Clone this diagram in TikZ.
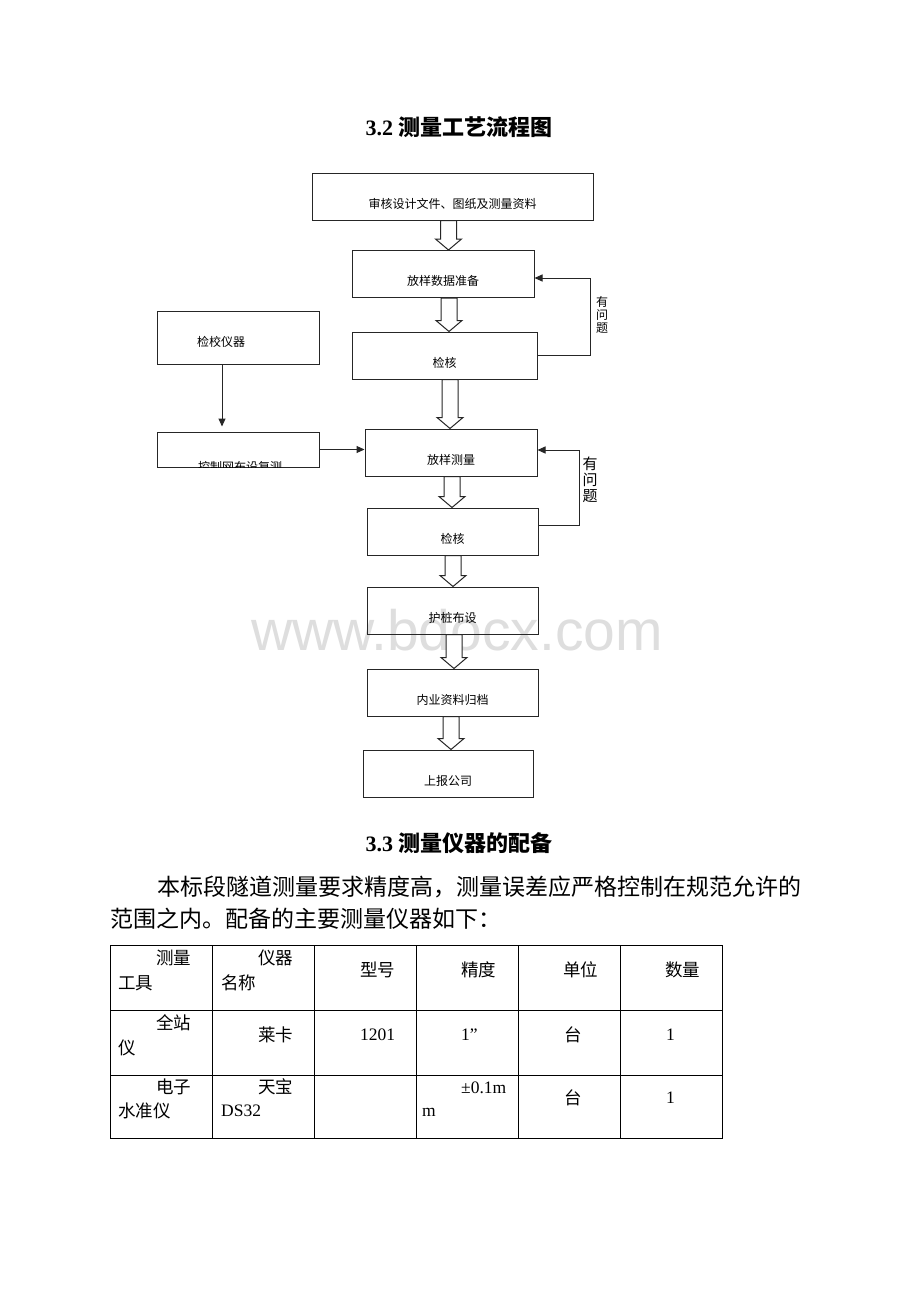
\documentclass[tikz,border=0pt]{standalone}
\usepackage{fontspec}
\setmainfont{Liberation Serif}
\setsansfont{Liberation Sans}
\newfontfamily\cjk{Noto Sans CJK SC}
\usetikzlibrary{arrows.meta,calc,positioning}

\newcommand{\hollowdown}[3]{%
  \path (#2.south -| #1,0) coordinate (ht) (#3.north -| #1,0) coordinate (hb);
  \draw [flow, fill=white] ([xshift=-8pt]ht) -- ([xshift=8pt]ht)
        -- ([xshift=8pt,yshift=11pt]hb) -- ([xshift=13pt,yshift=11pt]hb) -- (hb)
        -- ([xshift=-13pt,yshift=11pt]hb) -- ([xshift=-8pt,yshift=11pt]hb) -- cycle;
}

\begin{document}
\begin{tikzpicture}[x=1pt, y=-1pt,
        flow/.style={draw=black!85, line width=1pt},
        box/.style={flow, rectangle, inner sep=0pt, minimum height=47pt,
                    text height=25pt, text depth=2pt,
                    font=\cjk\fontsize{12}{12}\selectfont},
        boxtext/.style={inner sep=0pt, font=\cjk\fontsize{12}{12}\selectfont},
        feedback/.style={flow, -{Triangle[length=8pt,width=7pt]}},
        asklabel/.style={inner sep=0pt, align=center},
        heading/.style={inner sep=0pt, font=\bfseries\fontsize{22}{22}\selectfont},
        bodyline/.style={inner sep=0pt, anchor=west, font=\cjk\fontsize{23}{23}\selectfont},
        cell/.style={inner sep=0pt, anchor=west, font=\fontsize{17.5}{17.5}\selectfont}]
        \useasboundingbox (0,0) rectangle (920,1302);
        \fill [white] (0,0) rectangle (920,1302);

        \node [inner sep=0pt, anchor=base, text=black!13,
               font=\sffamily\fontsize{57}{57}\selectfont] (mark) at (457,650) {www.bdocx.com};

        \node [heading] (t32) at (459,127) {3.2 {\cjk 测量工艺流程图}};

        \node [box, minimum width=281pt] (review) at (452.5,196.5) {审核设计文件、图纸及测量资料};
        \node [box, minimum width=182pt] (prep) at (443,274) {放样数据准备};
        \node [box, minimum width=185pt] (checka) at (444.5,355.5) {检核};
        \node [box, minimum width=172pt] (stake) at (451,452.5) {放样测量};
        \node [box, minimum width=171pt] (checkb) at (452.5,531.5) {检核};
        \node [box, minimum width=171pt] (guard) at (452.5,610.5) {护桩布设};
        \node [box, minimum width=171pt] (archive) at (452.5,692.5) {内业资料归档};
        \node [box, minimum width=170pt] (report) at (448,773.5) {上报公司};

        \node [box, minimum width=162pt, minimum height=53pt] (calib) at (238,337.5) {};
        \node [boxtext] (calibtext) at ([xshift=-17pt,yshift=-4pt]calib.center) {检校仪器};
        \node [box, minimum width=162pt, minimum height=35pt] (ctrl) at (238,449.5) {};
        \begin{scope}
                \clip (ctrl.south west) rectangle (ctrl.north east);
                \node [boxtext, anchor=base] (ctrltext) at ([xshift=2pt,yshift=-3.6pt]ctrl.south) {控制网布设复测};
        \end{scope}

        \hollowdown{448.5}{review}{prep}
        \hollowdown{449}{prep}{checka}
        \hollowdown{450}{checka}{stake}
        \hollowdown{452}{stake}{checkb}
        \hollowdown{453}{checkb}{guard}
        \hollowdown{454}{guard}{archive}
        \hollowdown{451}{archive}{report}

        \draw [feedback] (checka.east) -- ++(53,0) |- ([yshift=-4pt]prep.east);
        \node [asklabel, font=\cjk\fontsize{12}{13}\selectfont] (aska) at (602,315) {有\\问\\题};
        \draw [feedback] ([yshift=6.5pt]checkb.east) -- ++(41,0) |- ([yshift=2.5pt]stake.east);
        \node [asklabel, font=\cjk\fontsize{15}{16}\selectfont] (askb) at (590,480) {有\\问\\题};

        \draw [feedback] (calib.south -| 222,0) -- ([yshift=5pt]ctrl.north -| 222,0);
        \draw [feedback] (ctrl.east) -- (ctrl.east -| stake.west);

        \node [heading] (t33) at (459,843) {3.3 {\cjk 测量仪器的配备}};
        \node [bodyline] (para1) at (157,887) {本标段隧道测量要求精度高，测量误差应严格控制在规范允许的};
        \node [bodyline] (para2) at (110,919) {范围之内。配备的主要测量仪器如下：};

        \draw [line width=1pt] (110,945) rectangle (722,1138);
        \foreach \x in {212,314,416,518,620}
                \draw [line width=1pt] (\x,945) -- (\x,1138);
        \foreach \y in {1010,1075}
                \draw [line width=1pt] (110,\y) -- (722,\y);

        \node [cell] (c11a) at (156,958) {\cjk 测量};
        \node [cell] (c11b) at (118,983) {\cjk 工具};
        \node [cell] (c12a) at (258,958) {\cjk 仪器};
        \node [cell] (c12b) at (221,983) {\cjk 名称};
        \node [cell] (c13) at (360,970) {\cjk 型号};
        \node [cell] (c14) at (461,970) {\cjk 精度};
        \node [cell] (c15) at (563,970) {\cjk 单位};
        \node [cell] (c16) at (665,970) {\cjk 数量};

        \node [cell] (c21a) at (156,1023) {\cjk 全站};
        \node [cell] (c21b) at (118,1048) {\cjk 仪};
        \node [cell] (c22) at (258,1035) {\cjk 莱卡};
        \node [cell] (c23) at (360,1035) {1201};
        \node [cell] (c24) at (461,1035) {1”};
        \node [cell] (c25) at (564,1035) {\cjk 台};
        \node [cell] (c26) at (666,1035) {1};

        \node [cell] (c31a) at (156,1087) {\cjk 电子};
        \node [cell] (c31b) at (118,1111) {\cjk 水准仪};
        \node [cell] (c32a) at (258,1087) {\cjk 天宝};
        \node [cell] (c32b) at (221,1111) {DS32};
        \node [cell] (c34a) at (461,1088) {±0.1m};
        \node [cell] (c34b) at (422,1112) {m};
        \node [cell] (c35) at (564,1098) {\cjk 台};
        \node [cell] (c36) at (666,1098) {1};
\end{tikzpicture}
\end{document}
